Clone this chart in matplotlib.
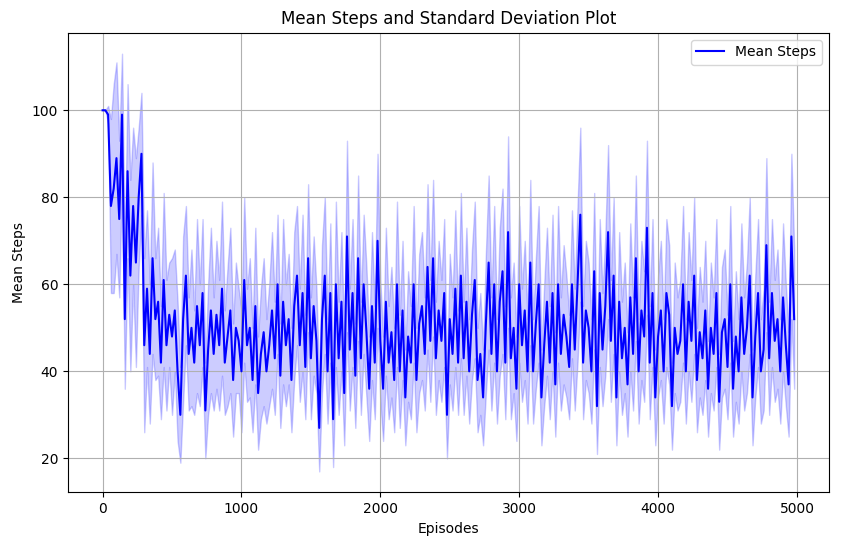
import matplotlib
matplotlib.use("Agg")
import matplotlib.pyplot as plt
import numpy as np

episodes = list(range(0, 5000, 20))
mean_steps = [
100,100,99,78,82,89,75,99,52,86,
62,78,65,80,90,46,59,44,66,52,
56,42,61,46,53,48,54,40,30,52,
62,44,50,42,55,46,58,31,45,54,
44,53,46,59,42,48,54,38,50,47,
40,61,46,50,38,55,35,44,49,40,
46,54,43,60,39,56,46,52,38,55,
62,46,58,41,66,43,55,47,27,52,
62,40,58,29,60,43,56,35,71,45,
58,39,66,43,60,49,36,55,42,70,
47,36,56,42,49,38,60,40,54,34,
48,42,60,38,51,55,44,64,47,66,
43,54,47,58,30,52,44,59,42,62,
43,56,40,53,61,38,44,34,51,65,
44,60,40,56,63,42,72,43,50,36,
60,46,54,40,65,40,51,60,34,46,
56,42,58,37,60,44,53,48,41,60,
45,60,76,42,54,50,40,63,32,58,
45,55,72,47,62,34,56,43,50,37,
57,44,66,40,54,48,73,42,58,34,
48,54,40,58,53,32,50,44,47,60,
40,56,47,62,38,49,43,54,36,50,
44,58,33,49,52,41,60,36,48,40,
57,44,50,62,34,48,58,40,45,69,
43,58,47,52,40,57,46,37,71,52,
]
std_steps = [
0,0,2,20,24,22,18,14,16,20,
22,18,24,16,14,20,18,16,22,14,
17,13,20,15,12,18,14,16,11,19,
16,13,18,12,20,14,17,11,15,19,
13,17,15,20,12,16,19,13,15,12,
14,19,13,16,12,18,13,15,17,12,
14,18,13,16,12,19,14,15,12,17,
16,13,18,12,17,14,16,12,10,17,
18,12,16,11,19,13,16,12,22,14,
17,12,19,13,16,15,12,17,13,20,
14,12,17,13,15,12,19,13,16,11,
15,13,18,12,16,17,13,19,14,18,
13,16,14,17,10,15,13,18,12,19,
13,17,12,15,18,12,14,11,16,20,
13,18,12,17,19,13,22,14,15,12,
18,13,16,12,19,12,15,18,11,14,
17,13,18,12,18,13,16,14,12,17,
14,18,20,13,16,15,12,18,11,17,
13,16,20,14,18,11,16,13,15,12,
17,13,19,12,16,15,20,13,17,11,
14,16,12,17,16,10,15,13,14,18,
12,16,14,18,12,15,13,16,11,15,
13,17,11,15,16,12,18,11,15,12,
17,13,15,18,11,14,17,12,14,20,
13,17,14,16,12,17,14,12,19,16,
]

x = np.array(episodes)
m = np.array(mean_steps, float)
s = np.array(std_steps, float)

fig, ax = plt.subplots(figsize=(8.5, 5.47), dpi=100)
ax.plot(x, m, color="blue", label="Mean Steps")
ax.fill_between(x, m - s, m + s, color="blue", alpha=0.2)
ax.set_title("Mean Steps and Standard Deviation Plot")
ax.set_xlabel("Episodes")
ax.set_ylabel("Mean Steps")
ax.set_yticks([20, 40, 60, 80, 100])
ax.grid(True)
ax.legend(loc="upper right")
fig.subplots_adjust(left=0.08, right=0.975, top=0.94, bottom=0.1)
fig.savefig("out.png")
